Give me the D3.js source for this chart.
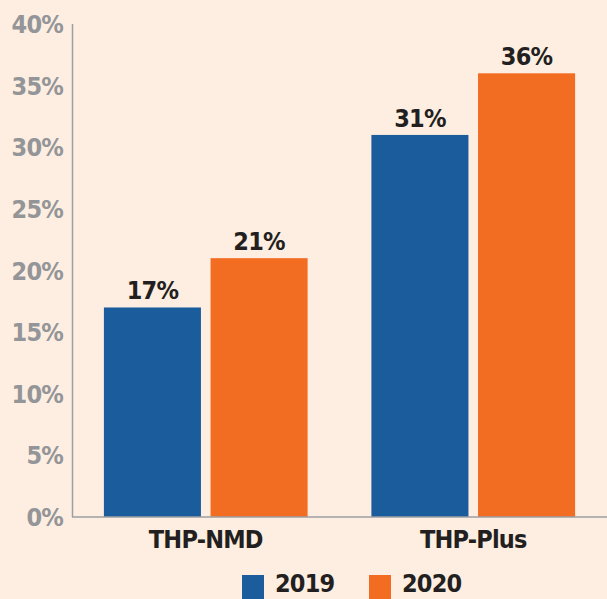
<!DOCTYPE html>
<meta charset="utf-8">
<head>
  <style>
    body { margin: 0; background: #fdeee1; }
    svg { display: block; }
    .tick-label { fill: #939598; font-weight: bold; font-size: 25px; letter-spacing: -0.8px; }
    .dark { fill: #231f20; font-weight: bold; font-size: 25px; letter-spacing: -0.8px; }
    text { font-family: "Liberation Sans Narrow", "DejaVu Sans Condensed", "Arial Narrow", sans-serif; }
  </style>
  <script src="https://cdn.jsdelivr.net/npm/d3@7"></script>
</head>
<body>
<script>
// data
var categories = ["THP-NMD", "THP-Plus"];
var years = ["2019", "2020"];
var values2019 = [17, 31];
var values2020 = [21, 36];
var yTicks = [0, 5, 10, 15, 20, 25, 30, 35, 40];
var colors = ["#1a5c9c", "#f26c22"];

var width = 607, height = 599;
var svg = d3.select("body").append("svg")
    .attr("width", width)
    .attr("height", height);

var x0 = d3.scaleBand().domain(categories).range([72, 607])
    .paddingInner(0.2385).paddingOuter(0.2385 / 2);
var x1 = d3.scaleBand().domain(years).range([0, x0.bandwidth()]).paddingInner(0.09);
var y = d3.scaleLinear().domain([0, 40]).range([517, 24]);
var color = d3.scaleOrdinal().domain(years).range(colors);

var rows = categories.map(function(c, i) {
  return { cat: c, vals: [
    { year: "2019", v: values2019[i] },
    { year: "2020", v: values2020[i] }
  ]};
});

// y tick labels
svg.append("g").selectAll("text")
  .data(yTicks)
  .enter().append("text")
    .attr("class", "tick-label")
    .attr("x", 63)
    .attr("y", function(d) { return y(d); })
    .attr("dy", "0.36em")
    .attr("text-anchor", "end")
    .text(function(d) { return d + "%"; });

// bars
var groups = svg.selectAll(".grp")
  .data(rows)
  .enter().append("g")
    .attr("class", "grp")
    .attr("transform", function(d) { return "translate(" + x0(d.cat) + ",0)"; });

groups.selectAll("rect")
  .data(function(d) { return d.vals; })
  .enter().append("rect")
    .attr("x", function(d) { return x1(d.year); })
    .attr("y", function(d) { return y(d.v); })
    .attr("width", x1.bandwidth())
    .attr("height", function(d) { return y(0) - y(d.v); })
    .attr("fill", function(d) { return color(d.year); });

groups.selectAll("text")
  .data(function(d) { return d.vals; })
  .enter().append("text")
    .attr("class", "dark")
    .attr("x", function(d) { return x1(d.year) + x1.bandwidth() / 2; })
    .attr("y", function(d) { return y(d.v) - 8; })
    .attr("text-anchor", "middle")
    .text(function(d) { return d.v + "%"; });

// axis lines
svg.append("line")
  .attr("x1", 72.5).attr("x2", 72.5)
  .attr("y1", y(40)).attr("y2", y(0))
  .attr("stroke", "#9d9fa2").attr("stroke-width", 1.5);
svg.append("line")
  .attr("x1", 72).attr("x2", width)
  .attr("y1", y(0)).attr("y2", y(0))
  .attr("stroke", "#9d9fa2").attr("stroke-width", 1.5);

// category labels
svg.append("g").selectAll("text")
  .data(categories)
  .enter().append("text")
    .attr("class", "dark")
    .attr("x", function(d) { return x0(d) + x0.bandwidth() / 2; })
    .attr("y", 548)
    .attr("text-anchor", "middle")
    .text(function(d) { return d; });

// legend
var legendX = [242, 369];
var legend = svg.selectAll(".legend")
  .data(years)
  .enter().append("g")
    .attr("class", "legend")
    .attr("transform", function(d, i) { return "translate(" + legendX[i] + ",575)"; });
legend.append("rect")
  .attr("width", 22).attr("height", 24)
  .attr("fill", function(d) { return color(d); });
legend.append("text")
  .attr("class", "dark")
  .attr("x", 33)
  .attr("y", 17)
  .attr("dy", 0)
  .text(function(d) { return d; });
</script>
</body>
